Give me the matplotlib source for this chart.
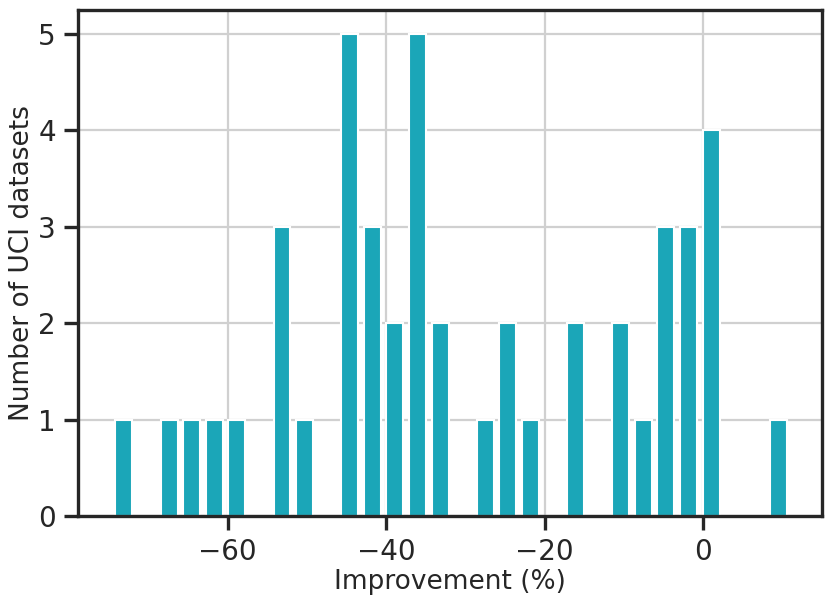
import matplotlib
matplotlib.use("Agg")
import matplotlib.pyplot as plt

# histogram bin centres (% improvement) and counts of UCI datasets
bin_centers = [-73.1, -70.25, -67.4, -64.55, -61.7, -58.85, -56.0, -53.15, -50.3, -47.45,
               -44.6, -41.75, -38.9, -36.05, -33.2, -30.35, -27.5, -24.65, -21.8, -18.95,
               -16.1, -13.25, -10.4, -7.55, -4.7, -1.85, 1.0, 3.85, 6.7, 9.55]
counts = [1, 0, 1, 1, 1, 1, 0, 3, 1, 0,
          5, 3, 2, 5, 2, 0, 1, 2, 1, 0,
          2, 0, 2, 1, 3, 3, 4, 0, 0, 1]
bin_width = 2.85
xticks = [-60, -40, -20, 0]
yticks = [0, 1, 2, 3, 4, 5]

dark = "#262626"
plt.rcParams['font.family'] = ['DejaVu Sans']

fig = plt.figure(figsize=(8.31, 6.05), dpi=100)
ax = fig.add_axes([78/831, 1 - 516/605, (822-78)/831, (516-10)/605])

ax.bar(bin_centers, counts, width=bin_width*0.75, color="#1ba6b8", edgecolor="white",
       linewidth=1.5, zorder=2)

ax.set_xlim(-78.9, 15.0)
ax.set_ylim(0, 5.25)
ax.set_xticks(xticks)
ax.set_yticks(yticks)
ax.grid(True, color="#d0d0d0", linewidth=1.6, zorder=0)
ax.set_axisbelow(True)

for s in ax.spines.values():
    s.set_linewidth(2.4)
    s.set_color(dark)
ax.tick_params(axis='both', which='major', length=10, width=2.4, color=dark,
               labelsize=20, labelcolor=dark, direction='out', pad=6)

ax.set_xlabel("Improvement (%)", fontsize=19, color=dark, labelpad=2)
ax.set_ylabel("Number of UCI datasets", fontsize=19, color=dark, labelpad=2)

fig.savefig("out.png", dpi=100)
